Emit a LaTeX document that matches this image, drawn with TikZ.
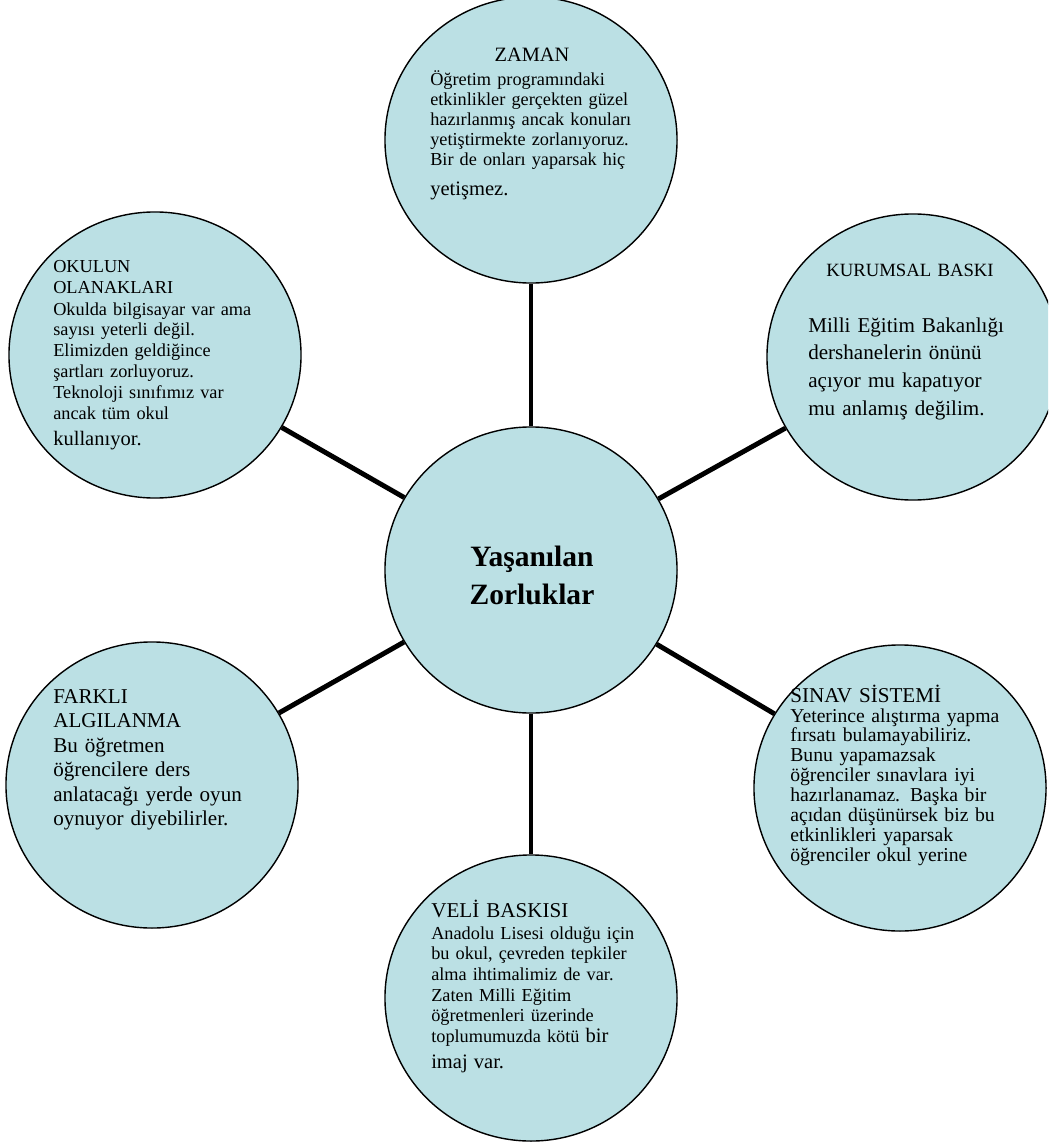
\documentclass[tikz,border=0pt]{standalone}
\usepackage{fontspec}
\setmainfont{Liberation Serif}
\usepackage{tikz}
\usetikzlibrary{shapes.geometric}
\definecolor{cblue}{RGB}{187,224,228}
\newcommand{\bigword}[1]{{\fontsize{14.6}{14.6}\selectfont #1}}

\begin{document}
\begin{tikzpicture}[x=0.025cm,y=-0.025cm,
  idea node/.style={ellipse,draw,line width=1pt,fill=cblue,
    minimum width=7.3cm,minimum height=7.15cm,inner sep=0pt},
  title node/.style={anchor=base west,inner sep=0pt,text width=6.5cm,align=left},
  body node/.style={anchor=base west,inner sep=0pt,text width=6.5cm,align=left},
  link/.style={line width=3.5pt}]
  \clip (0,0) rectangle (1048,1142);

  % circles
  \node[idea node] (hub) at (531,570) {};
  \node[idea node] (zaman) at (531,140) {};
  \node[idea node] (okul) at (155,355) {};
  \node[idea node] (kurum) at (913,357) {};
  \node[idea node] (farkli) at (152,785) {};
  \node[idea node] (sinav) at (900,788) {};
  \node[idea node] (veli) at (531,998) {};

  \path[link]
    (hub) edge (zaman)
    (hub) edge (okul)
    (hub) edge (kurum)
    (hub) edge (farkli)
    (hub) edge (sinav)
    (hub) edge (veli);

  % texts
  \node[anchor=base,align=center,text width=6cm,inner sep=0pt,
    font=\bfseries\fontsize{21}{27.4}\selectfont] (hubtext) at (532,566)
    {Yaşanılan\\ Zorluklar};

  \node[title node,anchor=base,align=center,font=\fontsize{14.5}{14.5}\selectfont]
    (zamantitle) at (532,62) {ZAMAN};
  \node[body node,font=\fontsize{13}{14.2}\selectfont] (zamanbody) at (430,86)
    {Öğretim programındaki\\ etkinlikler gerçekten güzel\\ hazırlanmış ancak konuları\\
     yetiştirmekte zorlanıyoruz.\\ Bir de onları yaparsak hiç\\[7pt] \bigword{yetişmez.}};

  \node[title node,font=\fontsize{13}{14.8}\selectfont] (okultitle) at (53,273)
    {OKULUN\\ OLANAKLARI};
  \node[body node,font=\fontsize{13}{14.8}\selectfont] (okulbody) at (53,315)
    {Okulda bilgisayar var ama\\ sayısı yeterli değil.\\ Elimizden geldiğince\\
     şartları zorluyoruz.\\ Teknoloji sınıfımız var\\ ancak tüm okul\\[4pt] \bigword{kullanıyor.}};

  \node[title node,anchor=base,align=center,font=\fontsize{13.3}{14.5}\selectfont]
    (kurumtitle) at (910,276) {KURUMSAL BASKI};
  \node[body node,font=\fontsize{15}{19.9}\selectfont] (kurumbody) at (808,332)
    {Milli Eğitim Bakanlığı\\ dershanelerin önünü\\ açıyor mu kapatıyor\\ mu anlamış değilim.};

  \node[title node,font=\fontsize{15}{17.5}\selectfont] (farklititle) at (53,703)
    {FARKLI\\ ALGILANMA};
  \node[body node,font=\fontsize{15}{17.5}\selectfont] (farklibody) at (53,752)
    {Bu öğretmen\\ öğrencilere ders\\ anlatacağı yerde oyun\\ oynuyor diyebilirler.};

  \node[title node,font=\fontsize{15}{15}\selectfont] (sinavtitle) at (790,702)
    {SINAV SİSTEMİ};
  \node[body node,font=\fontsize{14}{14.2}\selectfont] (sinavbody) at (790,722)
    {Yeterince alıştırma yapma\\ fırsatı bulamayabiliriz.\\ Bunu yapamazsak\\
     öğrenciler sınavlara iyi\\ hazırlanamaz. Başka bir\\ açıdan düşünürsek biz bu\\
     etkinlikleri yaparsak\\ öğrenciler okul yerine};

  \node[title node,font=\fontsize{15}{15}\selectfont] (velititle) at (431,917)
    {VELİ BASKISI};
  \node[body node,font=\fontsize{13}{14.7}\selectfont] (velibody) at (431,939)
    {Anadolu Lisesi olduğu için\\ bu okul, çevreden tepkiler\\ alma ihtimalimiz de var.\\
     Zaten Milli Eğitim\\ öğretmenleri üzerinde\\ toplumumuzda kötü \bigword{bir}\\[4pt]
     \bigword{imaj var.}};
\end{tikzpicture}
\end{document}
